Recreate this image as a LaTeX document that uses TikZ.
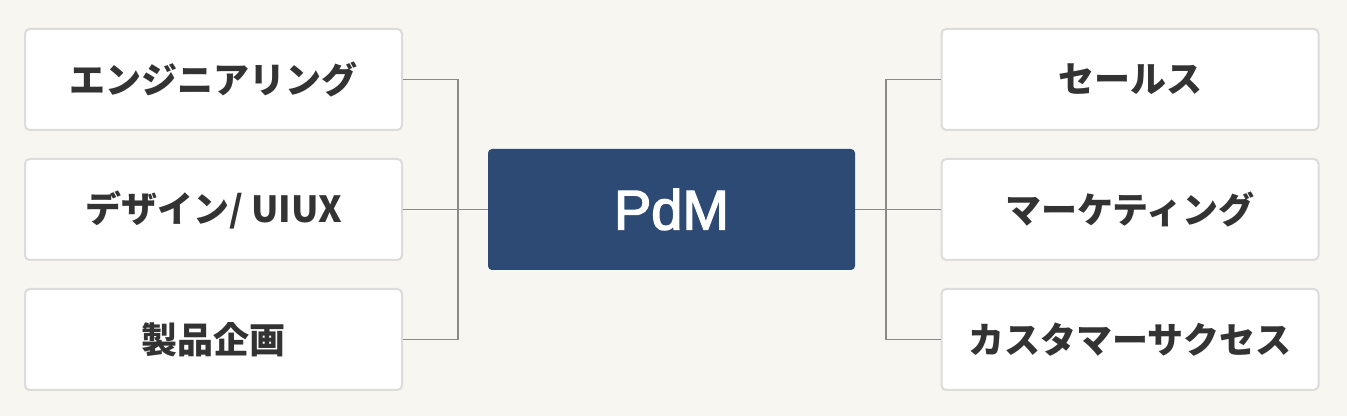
\documentclass[tikz,border=0pt]{standalone}
\usepackage{fontspec}
\setmainfont{Noto Sans CJK JP}
\newfontfamily\hubfont{Liberation Sans}[FakeBold=2.5]
\definecolor{bg}{HTML}{F7F6F1}
\definecolor{boxline}{HTML}{DCDCDA}
\definecolor{conn}{HTML}{8A8A88}
\definecolor{txt}{HTML}{333333}
\definecolor{pdm}{HTML}{2C4A73}
\begin{document}
\begin{tikzpicture}[x=0.75pt,y=-0.75pt,
  item/.style={draw=boxline,line width=1.5pt,fill=white,rounded corners=3.5pt,
    minimum width=282.75pt,minimum height=75.75pt,inner sep=0pt,
    font=\fontsize{27}{32}\selectfont\bfseries,text=txt},
  hub/.style={fill=pdm,rounded corners=3pt,minimum width=275.25pt,minimum height=90.75pt,
    inner sep=0pt,font=\hubfont\fontsize{42}{48}\selectfont,text=white},
  link/.style={draw=conn,line width=1.1pt}]
\fill[bg] (0,0) rectangle (1347,416);
\useasboundingbox (0,0) rectangle (1347,416);
\node[item] (l1) at (213.5,79.5) {エンジニアリング};
\node[item] (l2) at (213.5,209.5) {デザイン/ UIUX};
\node[item] (l3) at (213.5,339.5) {製品企画};
\node[item] (r1) at (1130,79.5) {セールス};
\node[item] (r2) at (1130,209.5) {マーケティング};
\node[item] (r3) at (1130,339.5) {カスタマーサクセス};
\node[hub] (c) at (671.5,209.5) {PdM};
\coordinate (lj) at (458,209.5);
\coordinate (rj) at (886,209.5);
\draw[link] (l1.east) -| (lj) |- (l3.east);
\draw[link] (l2.east) -- (c.west);
\draw[link] (r1.west) -| (rj) |- (r3.west);
\draw[link] (c.east) -- (r2.west);
\end{tikzpicture}
\end{document}
